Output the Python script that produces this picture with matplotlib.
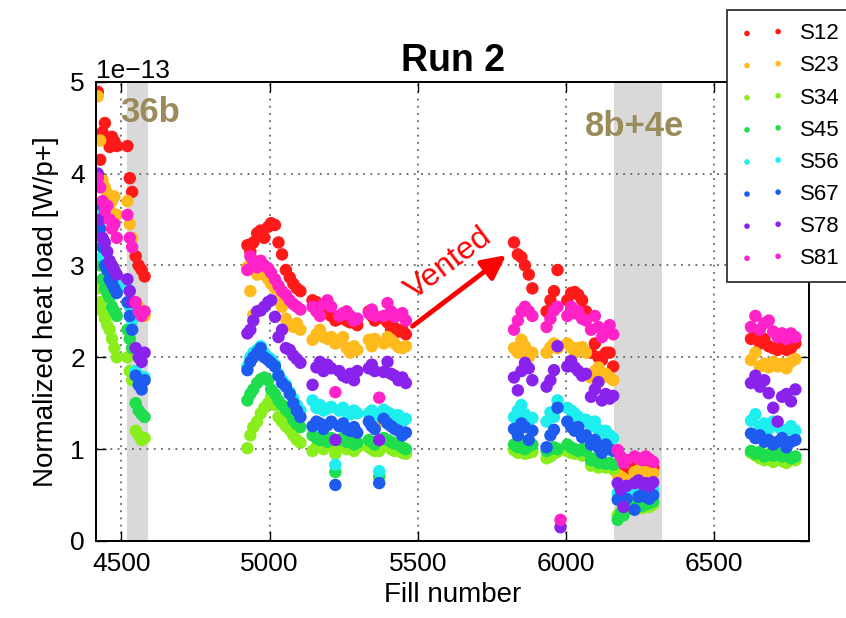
import numpy as np
import matplotlib
matplotlib.use("Agg")
import matplotlib.pyplot as plt

plt.rcParams['font.family'] = ['Liberation Sans', 'DejaVu Sans']

nan = np.nan

# fill numbers shared by all sectors
fills = [4420, 4428, 4436, 4444, 4452, 4460, 4468, 4476, 4484,
         4520, 4528, 4536, 4548, 4558, 4568, 4578,
         4925, 4935, 4945, 4958, 4970, 4982, 4995, 5005, 5018, 5030, 5042, 5055, 5068, 5080, 5092, 5104,
         5145, 5158, 5170, 5182, 5195, 5208, 5222, 5235, 5248, 5260, 5272, 5285, 5296,
         5335, 5345, 5355, 5370, 5385, 5398, 5410, 5422, 5435, 5448, 5460,
         5825, 5838, 5850, 5862, 5875, 5887,
         5935, 5948, 5960, 5972, 5982,
         6005, 6018, 6030, 6042, 6055, 6068,
         6085, 6098, 6110, 6122, 6135, 6148, 6160,
         6175, 6185, 6195, 6205,
         6232, 6245, 6258, 6270, 6282, 6295,
         6625, 6640, 6655, 6670, 6685, 6700, 6715, 6730, 6745, 6760, 6775]

# normalized heat load per sector, in units of 1e-13 W/p+
s12 = [4.89, 4.15, 4.45, 4.55, 4.36, 4.29, 4.4, 4.35, 4.3,
       4.3, 3.95, 3.8, 3.1, 3.0, 2.95, 2.88,
       3.22, 3.15, 3.25, 3.35, 3.38, 3.3, 3.42, 3.46, 3.44, 3.25, 3.12, 2.95, 2.87, 2.8, 2.75, 2.72,
       2.62, 2.6, 2.55, 2.5, 2.48, 2.45, 2.4, 2.42, 2.45, 2.4, 2.38, 2.42, 2.35,
       2.5, 2.45, 2.4, 1.38, 2.42, 2.38, 2.3, 2.32, 2.28, 2.3, 2.25,
       3.25, 3.12, 3.09, 3.0, 2.9, 2.75,
       2.5, 2.62, 2.72, 2.95, nan,
       2.62, 2.7, 2.71, 2.68, 2.62, 2.5,
       2.05, 2.15, 2.0, 1.97, 2.05, 2.05, 1.9,
       0.8, 0.78, 0.75, 0.72,
       0.8, 0.82, 0.78, 0.8, 0.76, 0.8,
       2.2, 2.25, 2.15, 2.2, 2.12, 2.1, 2.08, 2.12, 2.08, 2.1, 2.15]
s23 = [4.84, 4.36, 3.93, 3.85, 3.79, 3.6, 3.7, 3.75, 3.55,
       3.7, 3.45, 3.3, 2.6, 2.55, 2.5, 2.45,
       2.98, 2.72, 2.46, 2.9, 2.95, 2.9, 2.85, 2.8, 2.75, 2.62, 2.55, 2.42, 2.35, 2.33, 2.37, 2.3,
       2.19, 2.25, 2.3, 2.22, 2.2, 2.22, 2.15, 2.18, 2.22, 2.1, 2.05, 2.12, 2.08,
       2.19, 2.12, 2.2, 1.3, 2.15, 2.22, 2.19, 2.15, 2.11, 2.1, 2.12,
       2.1, 2.05, 2.19, 2.12, 2.0, 2.05,
       2.05, 2.11, 2.15, 2.1, nan,
       2.15, 2.11, 2.05, 2.1, 2.11, 2.05,
       1.78, 1.85, 1.89, 1.78, 1.82, 1.78, 1.75,
       0.72, 0.7, 0.68, 0.66,
       0.75, 0.77, 0.73, 0.75, 0.7, 0.74,
       1.97, 2.05, 1.9, 1.93, 1.89, 1.95, 1.9, 1.93, 1.88, 1.95, 1.98]
s34 = [2.75, 2.6, 2.5, 2.42, 2.35, 2.3, 2.2, 2.1, 2.0,
       2.0, 1.85, 1.75, 1.2, 1.15, 1.1, 1.12,
       1.01, 1.15, 1.24, 1.3, 1.39, 1.45, 1.5, 1.57, 1.48, 1.35, 1.3, 1.25, 1.21, 1.15, 1.1, 1.07,
       0.98, 1.02, 1.05, 1.0, 1.04, 1.06, 0.95, 1.03, 1.05, 1.0, 1.02, 0.98, 1.02,
       1.02, 1.0, 0.98, 0.98, 1.05, 1.03, 1.0, 0.98, 1.0, 0.96, 0.95,
       0.99, 0.96, 0.98, 0.95, 0.96, 0.97,
       0.9, 0.92, 0.95, 0.97, nan,
       0.98, 0.96, 0.95, 0.96, 0.93, 0.94,
       0.82, 0.85, 0.8, 0.82, 0.8, 0.82, 0.78,
       0.28, 0.32, 0.3, 0.34,
       0.35, 0.38, 0.36, 0.38, 0.37, 0.4,
       0.96, 0.93, 0.9, 0.88, 0.9, 0.86, 0.89, 0.87, 0.85, 0.89, 0.88]
s45 = [3.3, 3.0, 2.85, 2.75, 2.7, 2.65, 2.55, 2.5, 2.45,
       2.3, 2.2, 2.1, 1.5, 1.42, 1.38, 1.35,
       1.53, 1.6, 1.65, 1.72, 1.76, 1.78, 1.75, 1.65, 1.6, 1.53, 1.48, 1.43, 1.39, 1.32, 1.27, 1.24,
       1.15, 1.12, 1.1, 1.14, 1.08, 1.12, 0.75, 1.1, 1.12, 1.08, 1.1, 1.05, 1.07,
       1.1, 1.08, 1.05, 0.7, 1.12, 1.1, 1.08, 1.06, 1.05, 1.02, 1.0,
       1.05, 1.02, 1.06, 1.0, 1.03, 1.05,
       0.98, 1.0, 1.02, 1.0, nan,
       1.05, 1.02, 1.0, 0.98, 1.0, 0.98,
       0.88, 0.9, 0.85, 0.86, 0.84, 0.85, 0.83,
       0.23, 0.3, 0.28, 0.35,
       0.4, 0.42, 0.38, 0.4, 0.41, 0.43,
       0.98, 0.95, 0.97, 0.92, 0.94, 0.93, 0.95, 0.92, 0.94, 0.9, 0.92]
s56 = [3.55, 3.3, 3.1, 3.05, 2.95, 2.9, 2.85, 2.82, 2.78,
       2.75, 2.55, 2.4, 1.85, 1.8, 1.72, 1.78,
       1.9, 2.0, 2.05, 2.08, 2.12, 2.05, 2.0, 1.98, 1.92, 1.82, 1.75, 1.7, 1.62, 1.55, 1.48, 1.42,
       1.53, 1.45, 1.48, 1.42, 1.44, 1.46, 0.83, 1.42, 1.45, 1.4, 1.38, 1.42, 1.39,
       1.39, 1.42, 1.36, 0.76, 1.43, 1.4, 1.38, 1.35, 1.37, 1.3, 1.33,
       1.35, 1.42, 1.48, 1.38, 1.3, 1.34,
       1.3, 1.4, 1.35, 1.53, nan,
       1.45, 1.42, 1.39, 1.35, 1.3, 1.32,
       1.25, 1.3, 1.21, 1.13, 1.2, 1.15, 1.12,
       0.52, 0.5, 0.48, 0.5,
       0.55, 0.58, 0.56, 0.55, 0.53, 0.56,
       1.31, 1.38, 1.25, 1.28, 1.22, 1.3, 1.25, 1.2, 1.21, 1.25, 1.2]
s67 = [3.67, 3.4, 3.2, 3.0, 2.95, 2.85, 2.8, 2.75, 2.7,
       2.6, 2.45, 2.3, 1.8, 1.7, 1.65, 1.75,
       1.86, 1.95, 2.0, 2.05, 2.1, 2.0, 1.97, 1.94, 1.9, 1.8, 1.72, 1.68, 1.6, 1.5, 1.42, 1.35,
       1.25, 1.3, 1.28, 1.22, 1.26, 1.3, 0.61, 1.25, 1.28, 1.22, 1.2, 1.24, 1.18,
       1.3, 1.25, 1.22, 0.63, 1.33, 1.28, 1.25, 1.22, 1.2, 1.15, 1.18,
       1.22, 1.15, 1.28, 1.24, 1.1, 1.2,
       1.02, 1.15, 1.21, 1.45, nan,
       1.3, 1.24, 1.2, 1.24, 1.13, 1.15,
       1.05, 1.1, 1.02, 0.96, 1.05, 1.0, 0.98,
       0.45, 0.48, 0.42, 0.46,
       0.34, 0.48, 0.5, 0.48, 0.46, 0.5,
       1.17, 1.12, 1.15, 1.08, 1.1, 1.05, 1.08, 1.12, 1.02, 1.08, 1.1]
s78 = [4.0, 3.5, 3.3, 3.25, 3.15, 3.05, 3.0, 2.95, 2.9,
       2.85, 2.72, 2.6, 2.1, 2.0, 1.95, 2.05,
       2.26, 2.3, 2.4, 2.5, 2.51, 2.55, 2.6, 2.62, 2.44, 2.22, 2.3, 2.1, 2.08, 2.02, 1.98, 1.94,
       1.7, 1.89, 1.95, 1.85, 1.92, 1.88, 1.1, 1.85, 1.8, 1.78, 1.82, 1.75, 1.85,
       1.88, 1.92, 1.85, 1.1, 1.84, 1.95, 1.82, 1.8, 1.75, 1.78, 1.72,
       1.78, 1.64, 1.85, 1.94, 1.88, 1.75,
       1.68, 1.75, 1.86, 2.12, 0.15,
       1.9, 1.96, 1.89, 1.85, 1.8, 1.82,
       1.57, 1.65, 1.73, 1.53, 1.6, 1.55, 1.58,
       0.63, 0.56, 0.37, 0.6,
       0.63, 0.66, 0.62, 0.63, 0.6, 0.64,
       1.72, 1.8, 1.68, 1.75, 1.61, 1.45, 1.3, 1.57, 1.6, 1.52, 1.65]
s81 = [3.95, 3.85, 3.7, 3.6, 3.65, 3.5, 3.4, 3.45, 3.3,
       3.55, 3.3, 3.2, 2.6, 2.5, 2.45, 2.5,
       2.95, 3.1, 3.05, 2.98, 3.05, 3.0, 2.97, 2.92, 2.85, 2.78, 2.72, 2.68, 2.62, 2.58, 2.55, 2.52,
       2.55, 2.5, 2.45, 2.58, 2.62, 2.55, 1.62, 2.45, 2.48, 2.5, 2.45, 2.4, 2.42,
       2.48, 2.52, 2.45, 1.56, 2.45, 2.59, 2.5, 2.44, 2.46, 2.48, 2.4,
       2.3, 2.4, 2.5, 2.55, 2.5, 2.45,
       2.33, 2.42, 2.51, 2.55, 0.23,
       2.45, 2.55, 2.48, 2.5, 2.42, 2.4,
       2.3, 2.45, 2.33, 2.22, 2.3, 2.35, 2.25,
       0.99, 0.92, 0.85, 0.88,
       0.92, 0.9, 0.88, 0.92, 0.89, 0.86,
       2.33, 2.45, 2.3, 2.37, 2.4, 2.28, 2.22, 2.26, 2.2, 2.26, 2.22]

sector_names = ['S12', 'S23', 'S34', 'S45', 'S56', 'S67', 'S78', 'S81']
sector_loads = [s12, s23, s34, s45, s56, s67, s78, s81]
colors = ['#ff1a1a', '#ffbb1e', '#8aee1c', '#1ede4e', '#1eeeee', '#1e5cf0', '#8a22ee', '#ff22c8']

# filling-scheme periods
bands = [(4520, 4588), (6163, 6324)]

fig = plt.figure(figsize=(8.46, 6.18), dpi=100)
ax = fig.add_axes([0.1135, 0.1246, 0.8428, 0.7432])

for lo, hi in bands:
    ax.axvspan(lo, hi, color='#d9d9d9', lw=0, zorder=0.3)

x = np.array(fills)
for name, vals, c in zip(sector_names, sector_loads, colors):
    ax.scatter(x, np.array(vals) * 1e-13, s=80, color=c, edgecolors='none',
               label=name, zorder=2)

ax.set_xlim(4414, 6821)
ax.set_ylim(0, 5e-13)
ax.set_xticks([4500, 5000, 5500, 6000, 6500])
ax.set_yticks(np.arange(0, 6) * 1e-13)
ax.set_axisbelow(True)
ax.grid(True, linestyle=(0, (1, 3)), color='#666666', lw=1.3)
ax.tick_params(direction='in', top=True, right=True, length=7, width=1,
               labelsize=19, pad=8)
for sp in ax.spines.values():
    sp.set_linewidth(1.4)
ax.yaxis.get_offset_text().set_fontsize(19)

ax.set_xlabel('Fill number', fontsize=20, labelpad=4)
ax.set_ylabel('Normalized heat load [W/p+]', fontsize=20, labelpad=8)
ax.set_title('Run 2', fontsize=27, fontweight='bold', pad=8)

ax.text(4495, 4.56e-13, '36b', color='#9a8c5a', fontsize=25, fontweight='bold')
ax.text(6065, 4.41e-13, '8b+4e', color='#9a8c5a', fontsize=25, fontweight='bold')

ax.annotate('', xy=(5806, 3.13e-13), xytext=(5475, 2.32e-13),
            arrowprops=dict(arrowstyle='-|>', color='red', lw=3.5, mutation_scale=36))
ax.text(5605, 3.02e-13, 'Vented', color='red', fontsize=23, rotation=37,
        ha='center', va='center', rotation_mode='anchor')

leg = fig.legend(loc='upper left', bbox_to_anchor=(727 / 846, 1 - 10 / 618),
                 borderaxespad=0, numpoints=2, scatterpoints=2, markerscale=0.45,
                 fontsize=16, frameon=True, fancybox=False, edgecolor='#333333',
                 framealpha=1, labelspacing=0.5, handlelength=2.0,
                 handletextpad=0.7, borderpad=0.6)
leg.get_frame().set_linewidth(1.3)

fig.savefig('out.png', dpi=100)
